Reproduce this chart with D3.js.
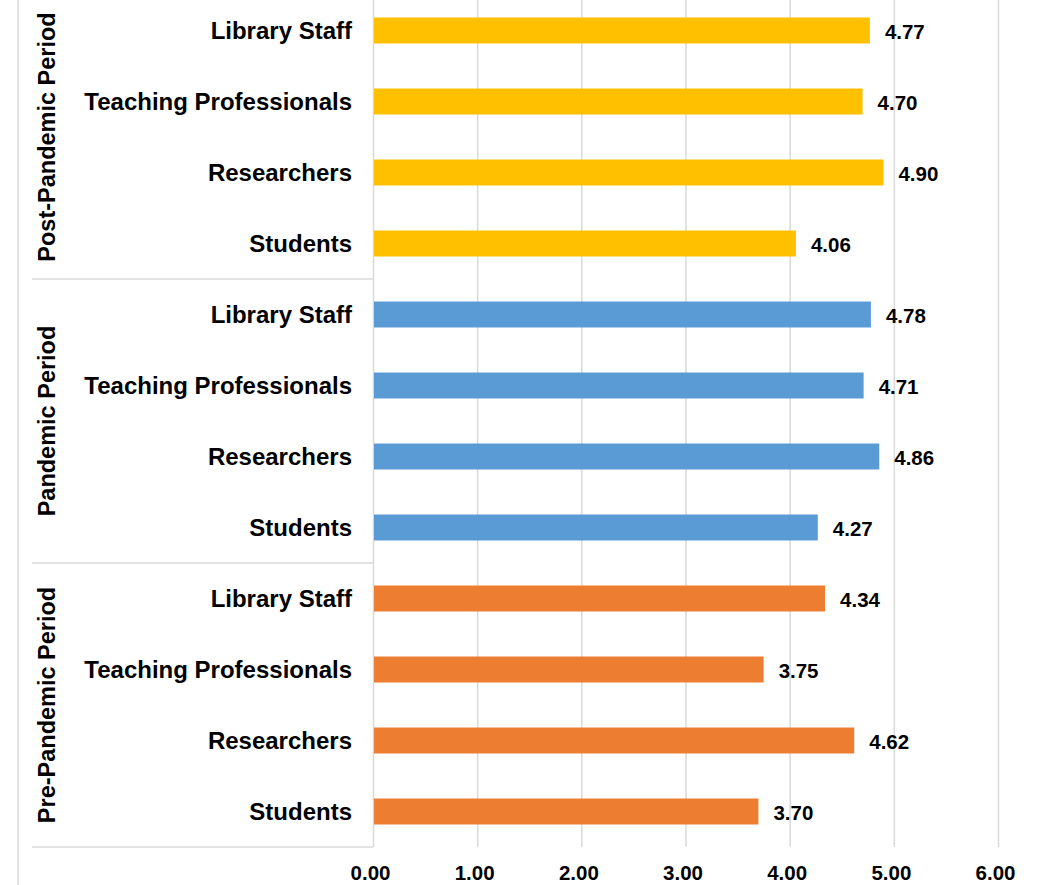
<!DOCTYPE html>
<html>
<head>
<meta charset="utf-8">
<title>Periods</title>
<script src="https://cdn.jsdelivr.net/npm/d3@7"></script>
<style>
body { margin: 0; background: #fff; }
svg { display: block; font-family: "Liberation Sans", Arial, sans-serif; font-weight: bold; }
.grid line { stroke: #d9d9d9; stroke-width: 1.5px; }
.sep { stroke: #d9d9d9; stroke-width: 1.5px; }
.cat { font-size: 24px; fill: #000; text-anchor: end; }
.grp { font-size: 23.5px; fill: #000; text-anchor: middle; }
.val { font-size: 20.5px; fill: #000; }
.tick text { font-size: 20.5px; fill: #000; }
</style>
</head>
<body>
<script>

// top to bottom
var periods = ["Post-Pandemic Period", "Pandemic Period", "Pre-Pandemic Period"];
var categories = ["Library Staff", "Teaching Professionals", "Researchers", "Students"];
var postValues = [4.77, 4.70, 4.90, 4.06];
var pandemicValues = [4.78, 4.71, 4.86, 4.27];
var preValues = [4.34, 3.75, 4.62, 3.70];
var tickValues = [0, 1, 2, 3, 4, 5, 6];
var colors = ["#FFC000", "#5B9BD5", "#ED7D31"];

var W = 1048, H = 885;
// plot area (top sits a little above the picture edge)
var m = {left: 373, right: 998, top: -5, bottom: 847};

var seriesValues = [postValues, pandemicValues, preValues];
var rows = [];
periods.forEach(function(p, i) {
  categories.forEach(function(c, j) {
    rows.push({period: p, pi: i, cat: c, value: seriesValues[i][j], key: p + "|" + c});
  });
});

var x = d3.scaleLinear().domain([0, 6]).range([m.left, m.right]);

var y = d3.scaleBand()
  .domain(rows.map(function(d) { return d.key; }))
  .range([m.top, m.bottom])
  .paddingInner(0.634)
  .paddingOuter(0.317);

var groupH = (m.bottom - m.top) / periods.length;

var svg = d3.select("body").append("svg")
  .attr("width", W)
  .attr("height", H);

// gridlines + tick labels
var xAxis = d3.axisBottom(x)
  .tickValues(tickValues)
  .tickFormat(d3.format(".2f"))
  .tickSizeInner(-(m.bottom - m.top))
  .tickSizeOuter(0);

var gx = svg.append("g")
  .attr("class", "grid")
  .attr("transform", "translate(0," + m.bottom + ")")
  .call(xAxis);
gx.select(".domain").remove();
gx.selectAll(".tick text")
  .attr("y", 33)
  .attr("dy", 0)
  .attr("dx", -3);

// left frame line
svg.append("line")
  .attr("class", "sep")
  .attr("x1", 18).attr("x2", 18)
  .attr("y1", 0).attr("y2", H);

// group separators
svg.selectAll(".gsep")
  .data(d3.range(periods.length + 1))
  .enter().append("line")
  .attr("class", "sep")
  .attr("x1", 32).attr("x2", m.left)
  .attr("y1", function(i) { return m.top + i * groupH; })
  .attr("y2", function(i) { return m.top + i * groupH; });

// bars
svg.selectAll(".bar")
  .data(rows)
  .enter().append("rect")
  .attr("class", "bar")
  .attr("x", x(0) + 1)
  .attr("y", function(d) { return y(d.key); })
  .attr("width", function(d) { return x(d.value) - x(0) - 1; })
  .attr("height", y.bandwidth())
  .attr("fill", function(d) { return colors[d.pi]; });

// value labels
svg.selectAll(".val")
  .data(rows)
  .enter().append("text")
  .attr("class", "val")
  .attr("x", function(d) { return x(d.value) + 15; })
  .attr("y", function(d) { return y(d.key) + y.bandwidth() / 2 + 8; })
  .text(function(d) { return d.value.toFixed(2); });

// category labels
svg.selectAll(".cat")
  .data(rows)
  .enter().append("text")
  .attr("class", "cat")
  .attr("x", 352)
  .attr("y", function(d) { return y(d.key) + y.bandwidth() / 2 + 8; })
  .text(function(d) { return d.cat; });

// group labels
svg.selectAll(".grp")
  .data(periods)
  .enter().append("text")
  .attr("class", "grp")
  .attr("transform", function(d, i) {
    return "translate(55," + (m.top + (i + 0.5) * groupH) + ") rotate(-90)";
  })
  .text(function(d) { return d; });

</script>
</body>
</html>
